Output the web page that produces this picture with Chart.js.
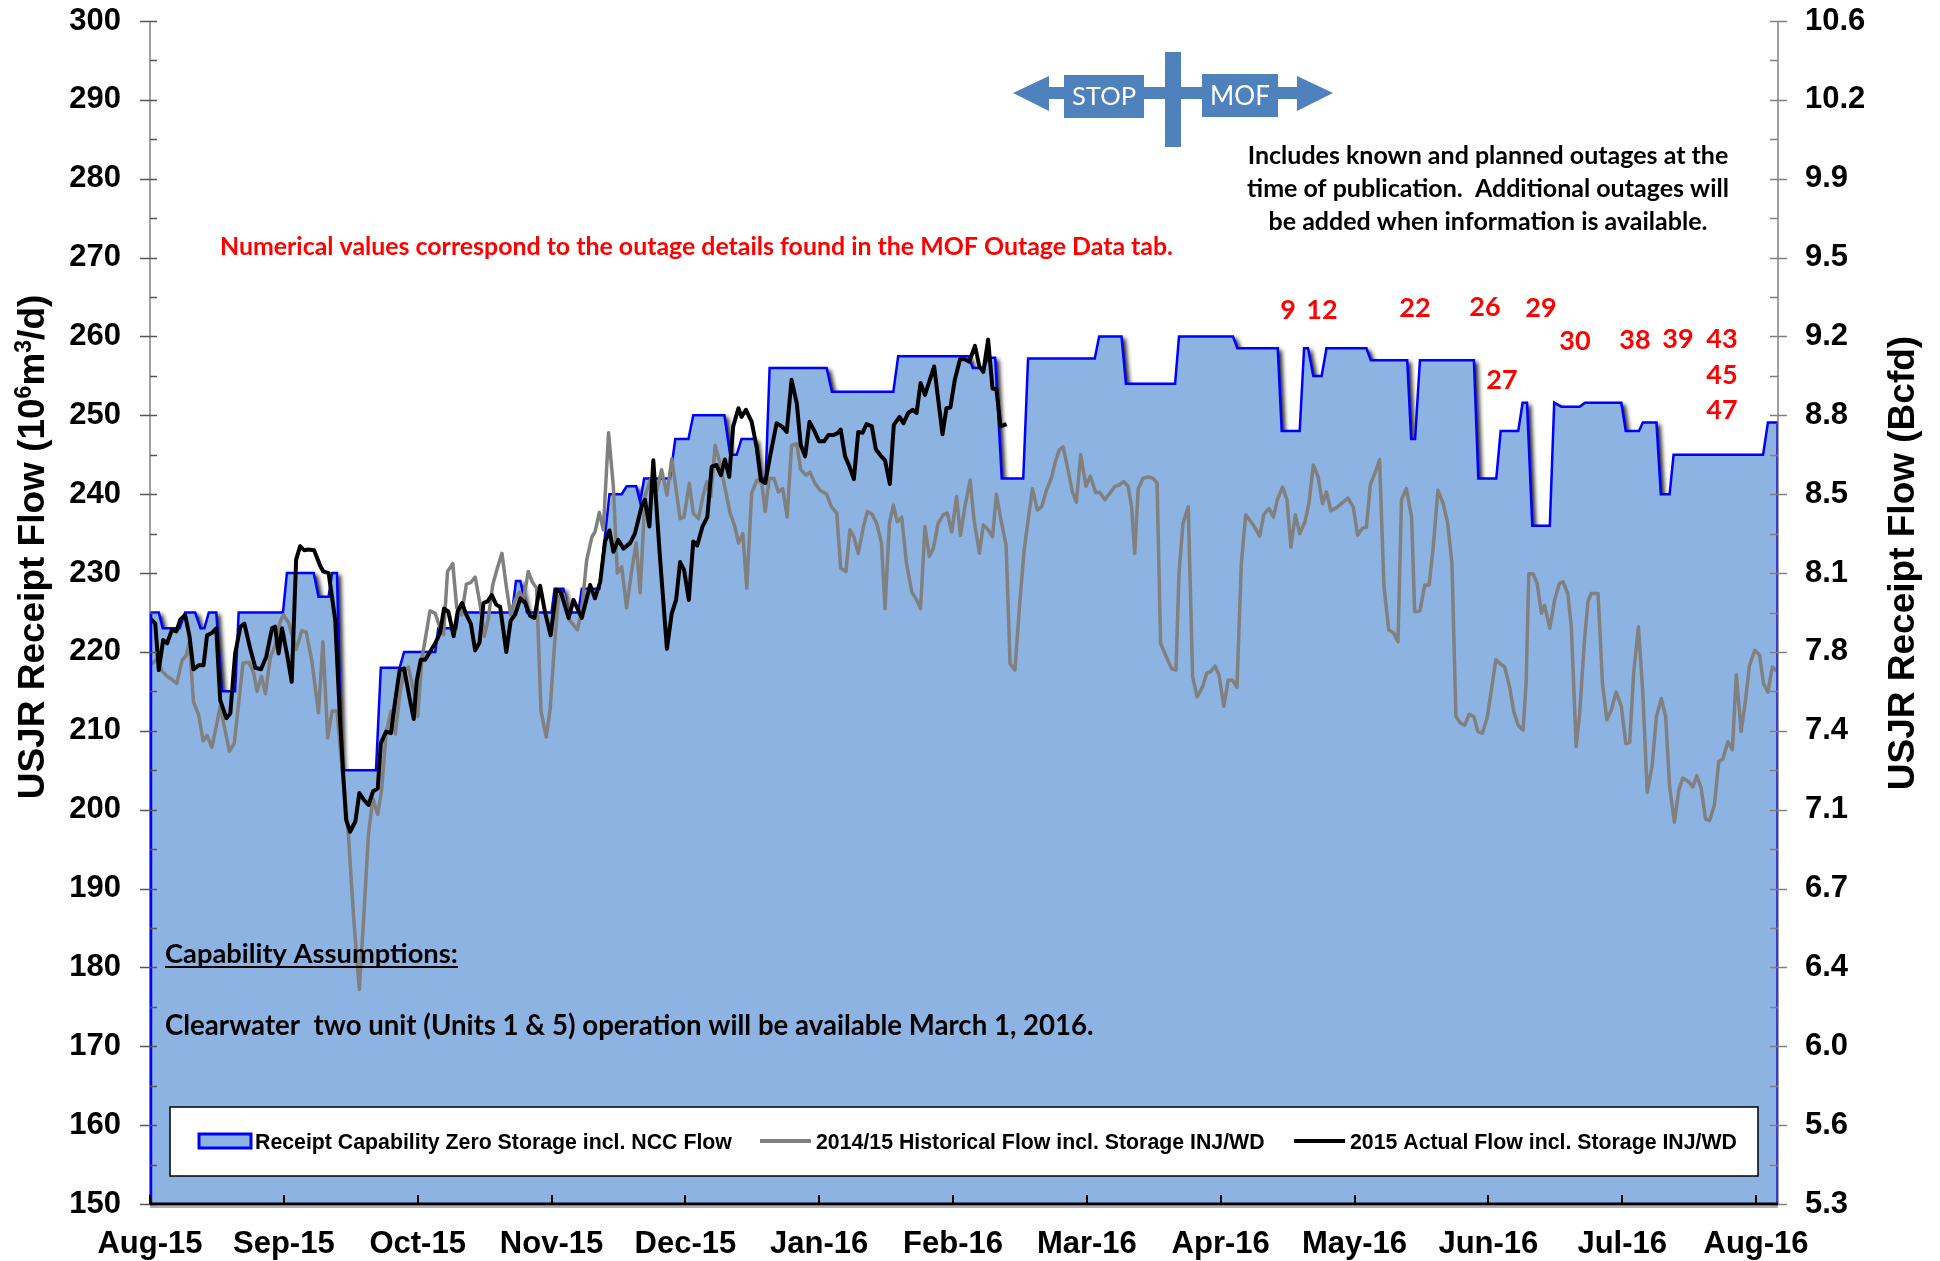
<!DOCTYPE html>
<html>
<head>
<meta charset="utf-8">
<script src="https://cdn.jsdelivr.net/npm/chart.js@4.4.1/dist/chart.umd.min.js"></script>
<style>
html,body{margin:0;padding:0;background:#ffffff;}
canvas{display:block;}
</style>
</head>
<body>
<canvas id="c" width="1940" height="1261"></canvas>
<script>
// ---------------- DATA ----------------
const monthLabels = ['Aug-15','Sep-15','Oct-15','Nov-15','Dec-15','Jan-16','Feb-16','Mar-16','Apr-16','May-16','Jun-16','Jul-16','Aug-16'];
const rightTickLabels = ['5.3','5.6','6.0','6.4','6.7','7.1','7.4','7.8','8.1','8.5','8.8','9.2','9.5','9.9','10.2','10.6'];

// Receipt Capability Zero Storage incl. NCC Flow (day offset from Aug-15, 10^6 m3/d)
const capDays = [0,2.0,2.9,6.75,8.0,10.3,11.5,12.4,13.4,15.1,16.4,19.4,20.2,30.3,31.2,37.3,38.4,40.7,41.5,42.6,43.7,51.5,52.6,56.9,57.9,65.0,65.7,69.8,70.3,82.5,83.4,84.4,85.9,91.5,92.2,94.2,95.2,97.6,98.4,102.4,104.7,107.5,108.6,110.8,111.7,112.6,118.5,119.7,122.7,123.8,130.9,132.2,133.7,134.8,137.9,139.2,140.3,141.2,154.2,155.4,169.4,170.5,186.5,187.5,190.0,191.0,192.6,194.1,199.0,200.1,215.3,216.3,221.4,222.4,233.6,234.5,246.8,247.8,257.0,257.9,262.0,263.0,263.9,265.1,267.0,268.1,277.2,278.2,286.5,287.4,288.3,289.4,301.7,302.7,306.8,307.8,311.8,312.8,313.8,315.0,319.0,320.0,321.6,325.8,327.0,335.3,336.3,339.3,340.2,343.3,344.3,346.3,347.2,367.6,368.7,371];
const capValues = [225,225,223,223,225,225,223,223,225,225,215,215,225,225,230,230,227,227,230,230,205,205,218,218,220,220,223,223,225,225,229,229,225,225,228,228,225,225,228,228,240,240,241,241,239,242,242,247,247,250,250,245,245,247,247,242,242,256,256,253,253,257.5,257.5,256,256,257.3,257.3,242,242,257.2,257.2,260,260,254,254,260,260,258.5,258.5,248,248,258.5,258.5,255,255,258.5,258.5,257,257,247,247,257,257,242,242,248,248,251.6,251.6,236,236,251.6,251.1,251.1,251.6,251.6,248,248,249.1,249.1,240,240,245,245,249.1,249.1];

// 2014/15 Historical Flow incl. Storage INJ/WD
const histDays = [0,1.6,2.7,3.9,5.0,6.1,7.3,8.3,9.0,9.9,11.1,12.1,13.0,14.1,15.1,16.0,17.1,18.1,19.2,20.2,21.2,22.5,23.6,24.4,25.4,26.3,27.4,28.5,29.7,30.4,31.6,33.3,34.6,35.6,36.9,38.4,39.4,40.5,41.5,42.6,43.7,45.2,46.4,47.7,48.7,49.8,50.8,51.9,52.8,53.8,54.9,55.9,56.9,57.8,58.9,60.1,61.0,62.0,62.9,63.8,65.0,66.0,66.9,67.8,69.0,69.9,71.0,72.1,73.1,74.1,75.2,76.2,77.1,78.1,79.2,80.2,81.2,82.2,83.2,84.2,85.1,86.2,87.2,88.1,89.1,90.3,91.2,92.1,93.1,94.2,95.4,97.4,98.4,99.5,100.7,101.4,102.4,103.3,104.5,105.6,106.5,107.5,108.6,109.8,110.8,111.7,112.8,114.0,115.5,116.6,117.8,118.9,119.7,120.8,121.7,122.9,123.8,125.0,126.0,126.9,127.8,128.8,129.9,131.0,132.2,133.3,134.1,135.1,136.0,137.1,138.3,139.4,140.2,141.1,142.2,143.2,144.2,145.2,146.2,147.4,148.3,149.5,150.4,151.5,152.7,154.2,155.3,156.5,157.4,158.6,159.5,160.4,161.4,162.6,163.5,164.5,165.6,166.7,167.5,168.5,169.4,170.3,171.3,172.4,173.6,174.7,175.6,176.6,177.6,178.5,179.6,180.8,181.7,182.7,183.8,184.7,185.7,186.9,187.8,189.0,189.9,191.0,192.0,192.9,193.8,195.1,196.0,197.1,198.2,199.2,200.1,201.1,202.2,203.2,204.3,205.5,206.2,207.2,208.1,209.2,210.2,211.1,212.1,213.3,214.3,215.5,216.5,217.6,218.7,219.9,221.0,221.9,222.9,223.7,224.4,225.2,226.3,227.5,228.6,229.5,230.3,231.5,232.8,233.8,234.5,235.4,236.6,237.6,238.6,239.9,240.8,241.7,242.7,243.6,244.7,245.7,246.7,247.7,248.7,249.7,251.4,252.9,253.8,255.0,256.0,256.9,258.1,259.1,260.0,261.0,262.0,263.2,264.1,265.1,266.2,267.2,268.1,269.1,270.4,271.5,273.0,274.2,275.2,276.3,277.2,278.1,279.1,280.2,281.2,282.3,283.4,284.4,285.2,286.3,287.5,288.2,289.4,290.5,291.5,292.4,293.5,294.7,295.7,296.7,297.6,298.6,299.6,300.6,301.7,302.6,303.6,304.7,305.7,306.7,307.7,308.7,309.9,310.8,311.8,312.9,313.6,314.2,315.2,316.1,317.1,317.8,319.0,320.1,321.2,322.0,323.1,323.9,325.0,325.8,326.9,327.7,328.4,330.0,331.0,332.0,333.0,334.1,335.3,336.3,337.2,338.1,339.2,340.2,341.2,342.3,343.3,344.4,345.4,346.3,347.4,348.4,349.3,350.5,351.6,352.5,353.5,354.5,355.4,356.5,357.5,358.4,359.6,360.6,361.5,362.6,363.6,364.5,365.7,366.8,367.7,368.7,369.7,370.7];
const histValues = [218.3,219.1,217.6,216.9,216.5,216.0,218.9,219.6,221.3,213.7,212.0,208.7,209.4,207.9,210.6,213.1,210.1,207.4,208.4,213.5,218.6,218.7,217.4,215.0,216.9,214.7,219.3,220.8,223.9,224.7,223.7,220.3,222.7,222.5,218.8,212.3,221.3,209.1,212.5,212.5,205.7,197.0,186.3,177.2,186.3,197.0,201.4,199.4,202.6,209.6,212.5,209.6,214.5,217.4,218.1,214.9,211.8,219.3,222.2,225.2,224.9,223.2,222.2,230.2,231.2,225.6,224.7,228.6,228.8,229.5,226.1,222.0,224.2,228.5,230.7,232.5,228.3,224.7,226.6,227.6,226.6,230.2,228.8,228.1,212.5,209.2,212.8,220.3,227.1,227.3,224.2,222.8,225.3,231.6,234.6,235.2,237.7,235.5,247.8,240.9,230.0,230.8,225.6,230.4,233.8,227.5,239.7,241.8,240.5,243.1,239.9,244.5,241.4,236.9,237.1,241.4,237.6,236.9,239.7,241.6,239.7,246.2,243.9,240.9,237.6,235.9,233.8,235.0,228.1,240.1,241.8,241.4,237.8,242.0,242.0,240.3,240.7,237.1,246.2,246.4,243.1,242.4,242.8,241.4,240.5,240.0,238.4,237.6,230.6,230.2,235.5,234.6,232.5,235.9,237.8,237.5,236.3,233.8,225.5,236.3,238.6,236.5,237.1,231.2,227.6,226.6,225.5,235.9,232.1,233.1,236.3,237.4,237.6,235.2,239.7,234.8,238.4,241.8,236.7,232.5,236.1,235.5,234.6,240.0,237.1,233.5,218.5,217.7,226.2,232.9,236.7,240.7,238.0,238.4,240.5,242.2,243.9,245.6,246.0,243.1,240.3,239.0,245.0,241.0,242.3,240.2,240.2,239.3,240.1,241.0,241.2,241.6,241.0,238.4,232.5,240.7,242.0,242.2,242.0,241.4,221.1,219.5,217.9,217.7,230.0,236.3,238.4,216.9,214.3,215.6,217.3,217.5,218.2,217.1,213.1,216.4,216.4,215.5,231.2,237.4,236.1,234.7,237.4,238.2,237.1,239.3,240.9,239.3,233.3,237.4,235.0,236.5,238.8,243.7,242.2,238.8,240.3,237.9,238.3,238.8,239.5,238.4,234.8,235.7,235.8,241.2,242.6,244.4,228.3,222.8,222.4,221.3,239.3,240.7,237.1,225.1,225.2,228.5,228.5,233.1,240.5,238.8,236.4,231.2,211.8,211.0,210.7,212.1,211.8,209.9,209.7,211.6,215.2,219.0,218.5,218.1,215.4,212.4,210.7,210.1,216.0,229.9,229.9,228.7,224.9,225.9,223.0,226.6,228.7,228.9,227.4,223.2,208.0,212.2,221.5,226.4,227.4,227.4,216.0,211.4,212.6,214.9,213.1,208.4,208.5,217.3,223.2,214.7,202.2,205.5,211.8,214.1,211.8,202.9,198.4,202.5,204.0,203.6,202.9,204.3,202.7,198.8,198.6,200.6,206.1,206.4,208.6,207.6,217.1,209.9,213.9,218.3,220.2,219.6,216.0,214.9,218.1,217.6];

// 2015 Actual Flow incl. Storage INJ/WD
const actDays = [0,1.2,2.0,3.0,3.9,5.0,6.0,6.9,8.0,9.0,9.9,11.1,12.2,13.0,14.1,15.1,16.0,17.4,18.3,19.4,20.6,21.5,22.8,24.0,25.3,26.5,27.8,28.5,29.3,30.1,31.2,32.3,33.3,34.2,35.1,36.1,37.4,38.8,39.5,40.7,42.2,43.3,44.1,44.7,45.6,46.8,47.7,48.8,49.8,50.8,51.9,52.6,53.8,54.9,55.9,56.9,57.9,59.1,60.1,60.8,61.7,62.7,63.7,65.0,66.1,67.0,68.0,69.2,70.1,71.1,72.1,73.1,74.1,75.1,76.0,76.9,77.9,78.9,79.8,81.2,82.2,83.2,84.4,85.5,86.6,87.6,88.9,90.0,91.3,92.6,93.6,95.4,96.5,98.4,100.3,101.4,102.6,103.7,104.7,105.6,106.7,107.9,109.4,110.5,112.1,112.8,113.8,114.7,116.2,117.8,118.9,119.9,120.8,121.7,122.8,123.8,124.7,125.9,127.0,128.0,129.1,130.1,131.0,132.0,132.9,134.1,134.8,135.8,137.1,138.3,139.2,140.2,141.3,142.8,144.0,145.1,146.2,147.4,148.3,149.3,150.3,151.5,152.5,153.6,154.6,155.7,156.6,157.4,158.4,159.4,160.4,161.4,162.4,163.3,164.5,165.4,166.5,167.5,168.6,169.5,170.8,171.7,172.8,173.8,174.7,175.6,176.6,177.6,178.7,179.6,180.6,181.5,182.4,183.4,184.6,185.7,186.7,188.0,189.0,189.9,191.0,192.0,192.9,193.8,195.2];
const actValues = [224.3,223.6,217.7,221.5,221.1,222.8,222.6,224.1,224.7,222.0,217.8,218.3,218.3,222.1,222.4,223.0,213.9,211.6,212.2,219.8,223.2,223.6,220.5,218.0,217.8,219.4,223.0,223.2,219.8,223.0,219.8,216.2,231.7,233.4,232.9,233.0,232.9,230.9,230.2,230.0,224.1,211.4,203.8,198.7,197.2,198.5,202.1,201.2,200.6,202.3,202.7,208.4,209.9,209.7,213.9,217.7,217.9,214.3,211.5,216.4,219.0,219.0,219.9,221.1,222.4,225.5,225.1,222.0,225.1,226.2,224.7,223.6,220.2,221.2,226.2,226.4,227.2,226.0,225.7,220.0,224.0,224.7,226.8,226.2,224.6,224.3,228.4,225.1,222.1,227.9,227.6,224.3,226.6,224.3,228.5,226.8,228.9,234.0,235.4,232.7,234.2,233.1,233.8,235.0,238.6,239.3,235.9,244.3,232.1,220.4,224.9,226.6,231.4,230.4,226.6,234.0,233.5,235.9,237.1,243.5,243.7,242.4,244.4,242.2,248.6,250.9,249.8,250.7,249.2,245.8,241.8,241.4,244.8,249.0,248.6,247.9,254.5,251.5,246.2,244.8,249.2,247.9,246.7,246.7,247.5,247.5,247.7,248.2,244.8,243.5,241.9,247.9,247.8,248.9,248.6,245.7,244.9,244.3,241.3,248.8,249.8,249.0,250.3,250.7,250.3,254.1,252.6,254.3,256.2,252.1,247.6,250.9,251.0,254.5,257.1,257.1,256.8,258.8,256.2,255.5,259.6,253.4,253.3,248.6,248.9];

const outageLabels = ['9','12','22','26','27','29','30','38','39','43','45','47'];

// ---------------- LAYOUT / STYLE (pixels) ----------------
const FILL = '#8DB3E2', BLUE = '#0000FF', GREY = '#808080', ARROW = '#4F81BD';
const SANS = '"Liberation Sans", Arial, sans-serif';
const CAL = 'Lato, "Open Sans", sans-serif';
const outagePos = [[1288,309],[1322,309],[1415,307],[1485,306],[1502,379],[1541,307],[1575,340],[1635,339],[1678,338],[1722,338],[1722,374],[1722,409]];

function pts(xs, ys){ return xs.map((d,i)=>({x:d, y:ys[i]})); }

function fitSize(ctx, text, weight, family, targetW){
  ctx.font = weight + ' 40px ' + family;
  return 40 * targetW / ctx.measureText(text).width;
}
function capH(ctx){ return ctx.measureText('H').actualBoundingBoxAscent; }

const decoPlugin = {
  id: 'deco',
  beforeDatasetsDraw(chart){
    const ctx = chart.ctx;
    ctx.save();
    ctx.shadowColor = 'rgba(0,0,0,0.85)';
    ctx.shadowBlur = 4;
    ctx.shadowOffsetX = 4;
    ctx.shadowOffsetY = 2;
  },
  beforeDatasetDraw(chart, args){
    if (args.index === 0) chart.ctx.restore();
  },
  afterDraw(chart){
    const ctx = chart.ctx;
    const a = chart.chartArea;
    const xs = chart.scales.x, ys = chart.scales.y;
    ctx.save();
    ctx.lineCap = 'butt';
    ctx.strokeStyle = GREY; ctx.lineWidth = 1.5;
    ctx.beginPath(); ctx.moveTo(a.left, a.top); ctx.lineTo(a.left, a.bottom); ctx.stroke();
    ctx.beginPath(); ctx.moveTo(a.right, a.top); ctx.lineTo(a.right, a.bottom); ctx.stroke();
    ctx.strokeStyle = BLUE; ctx.lineWidth = 2.5;
    ctx.beginPath(); ctx.moveTo(a.left+1, ys.getPixelForValue(capValues[0])); ctx.lineTo(a.left+1, a.bottom); ctx.stroke();
    ctx.strokeStyle = '#3b3bd0'; ctx.lineWidth = 2;
    ctx.beginPath(); ctx.moveTo(a.right-1, ys.getPixelForValue(capValues[capValues.length-1])); ctx.lineTo(a.right-1, a.bottom); ctx.stroke();
    ctx.lineWidth = 1.5;
    for (let v = 150; v <= 300; v += 5){
      const py = Math.round(ys.getPixelForValue(v)) + 0.5;
      const major = v % 10 === 0;
      ctx.strokeStyle = '#555555';
      ctx.beginPath(); ctx.moveTo(major ? a.left-10 : a.left, py); ctx.lineTo(a.left+7, py); ctx.stroke();
      ctx.strokeStyle = GREY;
      ctx.beginPath(); ctx.moveTo(a.right-8, py); ctx.lineTo(major ? a.right+9 : a.right, py); ctx.stroke();
    }
    ctx.strokeStyle = '#000'; ctx.lineWidth = 2;
    for (let i = 0; i < monthLabels.length; i++){
      const px = Math.round(xs.getPixelForValue(i*30.5));
      ctx.beginPath(); ctx.moveTo(px, a.bottom-9); ctx.lineTo(px, a.bottom); ctx.stroke();
    }
    ctx.strokeStyle = '#b0b0b0'; ctx.lineWidth = 2;
    ctx.beginPath(); ctx.moveTo(a.left, a.bottom+3); ctx.lineTo(a.right, a.bottom+3); ctx.stroke();
    ctx.strokeStyle = '#000'; ctx.lineWidth = 3;
    ctx.beginPath(); ctx.moveTo(a.left, a.bottom); ctx.lineTo(a.right, a.bottom); ctx.stroke();

    // axis titles
    ctx.fillStyle = '#000';
    ctx.textBaseline = 'alphabetic';
    {
      const big = 'bold 37px ' + SANS, small = 'bold 23px ' + SANS;
      const parts = [['USJR Receipt Flow (10', big, 0], ['6', small, -13], ['m', big, 0], ['3', small, -13], ['/d)', big, 0]];
      let tot = 0; parts.forEach(p=>{ ctx.font = p[1]; tot += ctx.measureText(p[0]).width; });
      ctx.save(); ctx.translate(44, 547); ctx.rotate(-Math.PI/2);
      let x = -tot/2;
      ctx.textAlign = 'left';
      parts.forEach(p=>{ ctx.font = p[1]; ctx.fillText(p[0], x, p[2]); x += ctx.measureText(p[0]).width; });
      ctx.restore();
    }
    {
      ctx.save(); ctx.translate(1914, 563); ctx.rotate(-Math.PI/2);
      ctx.font = 'bold 37px ' + SANS; ctx.textAlign = 'center';
      ctx.fillText('USJR Receipt Flow (Bcfd)', 0, 0);
      ctx.restore();
    }

    // legend
    ctx.fillStyle = '#fff'; ctx.fillRect(170, 1107, 1588, 69);
    ctx.strokeStyle = '#000'; ctx.lineWidth = 1.5; ctx.strokeRect(170, 1107, 1588, 69);
    ctx.fillStyle = FILL; ctx.fillRect(199, 1134, 52, 14);
    ctx.strokeStyle = BLUE; ctx.lineWidth = 3; ctx.strokeRect(199, 1134, 52, 14);
    ctx.strokeStyle = GREY; ctx.lineWidth = 4;
    ctx.beginPath(); ctx.moveTo(760, 1141); ctx.lineTo(811, 1141); ctx.stroke();
    ctx.strokeStyle = '#000';
    ctx.beginPath(); ctx.moveTo(1294, 1141); ctx.lineTo(1345, 1141); ctx.stroke();
    ctx.fillStyle = '#000'; ctx.font = 'bold 21.3px ' + SANS; ctx.textAlign = 'left';
    const lb = 1141 + capH(ctx)/2;
    ctx.fillText('Receipt Capability Zero Storage incl. NCC Flow', 255, lb);
    ctx.fillText('2014/15 Historical Flow incl. Storage INJ/WD', 816, lb);
    ctx.fillText('2015 Actual Flow incl. Storage INJ/WD', 1350, lb);

    // STOP / MOF arrow graphic
    ctx.fillStyle = ARROW;
    ctx.fillRect(1048, 87, 250, 12);
    ctx.beginPath(); ctx.moveTo(1013, 93); ctx.lineTo(1049, 76); ctx.lineTo(1049, 111); ctx.closePath(); ctx.fill();
    ctx.beginPath(); ctx.moveTo(1297, 76); ctx.lineTo(1297, 111); ctx.lineTo(1333, 93); ctx.closePath(); ctx.fill();
    ctx.fillRect(1064, 75, 80, 43);
    ctx.fillRect(1202, 74, 76, 43);
    ctx.fillRect(1165, 52, 16, 95);
    ctx.fillStyle = '#fff'; ctx.textAlign = 'center';
    let fs = fitSize(ctx, 'STOP', 'normal', CAL, 64);
    ctx.font = 'normal ' + fs.toFixed(1) + 'px ' + CAL;
    ctx.fillText('STOP', 1104, 96 + capH(ctx)/2);
    fs = fitSize(ctx, 'MOF', 'normal', CAL, 60);
    ctx.font = 'normal ' + fs.toFixed(1) + 'px ' + CAL;
    ctx.fillText('MOF', 1240, 95 + capH(ctx)/2);

    // notes
    ctx.fillStyle = '#FF0000';
    const note = 'Numerical values correspond to the outage details found in the MOF Outage Data tab.';
    fs = fitSize(ctx, note, 'bold', CAL, 953);
    ctx.font = 'bold ' + fs.toFixed(1) + 'px ' + CAL; ctx.textAlign = 'center';
    ctx.fillText(note, 696.5, 246 + capH(ctx)/2);

    ctx.fillStyle = '#000';
    const info = ['Includes known and planned outages at the', 'time of publication.  Additional outages will', 'be added when information is available.'];
    fs = fitSize(ctx, info[0], 'bold', CAL, 481);
    ctx.font = 'bold ' + fs.toFixed(1) + 'px ' + CAL;
    [164, 197, 230].forEach((y, i) => ctx.fillText(info[i], 1488, y));

    // outage numbers
    ctx.fillStyle = '#FF0000';
    ctx.font = 'bold 27px ' + CAL;
    const ch = capH(ctx);
    outageLabels.forEach((t, i) => ctx.fillText(t, outagePos[i][0], outagePos[i][1] + ch/2));

    // capability assumptions
    ctx.fillStyle = '#000'; ctx.textAlign = 'left';
    const t1 = 'Capability Assumptions:';
    fs = fitSize(ctx, t1, 'bold', CAL, 293);
    ctx.font = 'bold ' + fs.toFixed(1) + 'px ' + CAL;
    ctx.fillText(t1, 165, 963);
    ctx.fillRect(165, 966, 293, 2);
    const t2 = 'Clearwater  two unit (Units 1 & 5) operation will be available March 1, 2016.';
    fs = fitSize(ctx, t2, 'bold', CAL, 928);
    ctx.font = 'bold ' + fs.toFixed(1) + 'px ' + CAL;
    ctx.fillText(t2, 165, 1035);
    ctx.restore();
  }
};

const yFit = (w) => (s) => { s.width = w; s.paddingTop = 0; s.paddingBottom = 0; };

const chart = new Chart(document.getElementById('c'), {
  type: 'line',
  data: {
    datasets: [
      { label: 'Receipt Capability Zero Storage incl. NCC Flow', data: pts(capDays, capValues),
        borderColor: BLUE, borderWidth: 2.5, backgroundColor: FILL, fill: 'start',
        pointRadius: 0, tension: 0, order: 3, yAxisID: 'y' },
      { label: '2014/15 Historical Flow incl. Storage INJ/WD', data: pts(histDays, histValues),
        borderColor: GREY, borderWidth: 3.5, fill: false, pointRadius: 0, tension: 0, order: 2, yAxisID: 'y',
        borderJoinStyle: 'round' },
      { label: '2015 Actual Flow incl. Storage INJ/WD', data: pts(actDays, actValues),
        borderColor: '#000000', borderWidth: 4, fill: false, pointRadius: 0, tension: 0, order: 1, yAxisID: 'y',
        borderJoinStyle: 'round' }
    ]
  },
  options: {
    responsive: false,
    animation: false,
    devicePixelRatio: 1,
    layout: { padding: { top: 21, left: 0, right: 0, bottom: 0 } },
    plugins: {
      legend: { display: false },
      tooltip: { enabled: false },
      filler: { drawTime: 'beforeDatasetDraw' }
    },
    scales: {
      x: {
        type: 'linear', min: 0, max: 371,
        grid: { display: false, drawTicks: false },
        border: { display: false },
        ticks: {
          stepSize: 30.5, includeBounds: false, autoSkip: false, maxRotation: 0, minRotation: 0,
          padding: 22, color: '#000',
          font: { family: SANS, size: 31, weight: 'bold' },
          callback: (v) => { const i = Math.round(v / 30.5); return (Math.abs(v - i*30.5) < 0.01 && monthLabels[i]) ? monthLabels[i] : ''; }
        },
        afterFit: (s) => { s.height = 57; s.paddingLeft = 0; s.paddingRight = 0; }
      },
      y: {
        position: 'left', min: 150, max: 300,
        grid: { display: false, drawTicks: false },
        border: { display: false },
        ticks: { stepSize: 10, padding: 29, color: '#000', font: { family: SANS, size: 31, weight: 'bold' } },
        afterFit: yFit(150)
      },
      y2: {
        position: 'right', min: 150, max: 300,
        grid: { display: false, drawTicks: false },
        border: { display: false },
        ticks: { stepSize: 10, padding: 27, color: '#000', font: { family: SANS, size: 31, weight: 'bold' },
          callback: (v) => rightTickLabels[Math.round((v - 150) / 10)] },
        afterFit: yFit(162)
      }
    }
  },
  plugins: [decoPlugin]
});
</script>
</body>
</html>
